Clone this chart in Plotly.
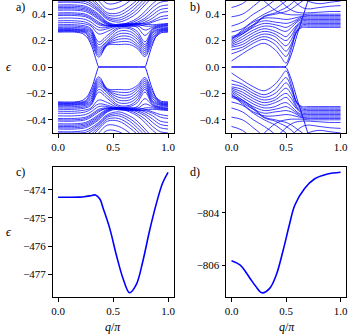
import plotly.graph_objects as go

W, H = 353, 335
BLUE = "#0000ff"
FONT = "'Liberation Serif', 'Times New Roman', 'DejaVu Serif', serif"

# ---- panel a: band energies (positive branch; spectrum is particle-hole symmetric)
XA = [0, 0.15, 0.25, 0.3, 0.37, 0.45, 0.55, 0.65, 0.72, 0.79, 0.86, 0.93, 1.0]
XA0 = [0, 0.15, 0.22, 0.27, 0.31, 0.34, 0.37, 0.42, 0.5, 0.6, 0.7, 0.74, 0.79, 0.82, 0.85, 0.89, 0.94, 1.0]
ZA = [0.265, 0.265, 0.255, 0.22, 0.15, 0.07, 0.0, 0.0, 0.0, 0.0, 0.0, 0.0, 0.0, 0.07, 0.15, 0.23, 0.26, 0.265]
BANDS_A = [
    [0.27, 0.27, 0.255, 0.19, 0.075, 0.165, 0.17, 0.17, 0.14, 0.08, 0.19, 0.265, 0.27],
    [0.275, 0.275, 0.262, 0.21, 0.09, 0.17, 0.19, 0.19, 0.155, 0.095, 0.21, 0.27, 0.275],
    [0.28, 0.28, 0.268, 0.23, 0.105, 0.175, 0.21, 0.21, 0.17, 0.11, 0.225, 0.275, 0.28],
    [0.285, 0.285, 0.275, 0.245, 0.12, 0.18, 0.23, 0.23, 0.19, 0.125, 0.24, 0.28, 0.285],
    [0.29, 0.29, 0.282, 0.26, 0.135, 0.19, 0.25, 0.25, 0.21, 0.14, 0.255, 0.285, 0.29],
    [0.3, 0.3, 0.29, 0.27, 0.15, 0.2, 0.27, 0.27, 0.23, 0.155, 0.265, 0.29, 0.295],
    [0.31, 0.31, 0.3, 0.28, 0.17, 0.22, 0.29, 0.29, 0.25, 0.17, 0.275, 0.3, 0.3],
    [0.32, 0.32, 0.31, 0.29, 0.19, 0.24, 0.3, 0.3, 0.27, 0.19, 0.285, 0.305, 0.31],
    [0.335, 0.335, 0.325, 0.31, 0.25, 0.27, 0.31, 0.315, 0.3, 0.24, 0.29, 0.31, 0.315],
    [0.35, 0.35, 0.34, 0.32, 0.28, 0.29, 0.315, 0.32, 0.315, 0.28, 0.3, 0.315, 0.32],
    [0.37, 0.37, 0.36, 0.34, 0.3, 0.3, 0.32, 0.325, 0.325, 0.31, 0.31, 0.32, 0.325],
    [0.39, 0.39, 0.38, 0.36, 0.32, 0.31, 0.325, 0.33, 0.33, 0.325, 0.32, 0.325, 0.33],
    [0.4, 0.4, 0.39, 0.37, 0.33, 0.315, 0.315, 0.32, 0.325, 0.33, 0.35, 0.38, 0.39],
    [0.41, 0.41, 0.4, 0.38, 0.34, 0.31, 0.31, 0.31, 0.31, 0.32, 0.34, 0.36, 0.37],
    [0.43, 0.43, 0.42, 0.4, 0.36, 0.32, 0.31, 0.31, 0.32, 0.34, 0.37, 0.41, 0.42],
    [0.44, 0.44, 0.43, 0.41, 0.37, 0.325, 0.31, 0.315, 0.33, 0.355, 0.395, 0.435, 0.445],
    [0.45, 0.45, 0.44, 0.42, 0.38, 0.33, 0.31, 0.32, 0.34, 0.37, 0.42, 0.46, 0.47],
    [0.46, 0.46, 0.45, 0.43, 0.39, 0.335, 0.315, 0.33, 0.355, 0.395, 0.45, 0.49, 0.5],
    [0.47, 0.47, 0.46, 0.44, 0.4, 0.34, 0.32, 0.34, 0.37, 0.42, 0.48, 0.52, 0.53],
    [0.49, 0.49, 0.48, 0.46, 0.42, 0.36, 0.34, 0.37, 0.41, 0.47, 0.53, 0.57, 0.58],
    [0.5, 0.5, 0.495, 0.475, 0.43, 0.37, 0.355, 0.39, 0.435, 0.495, 0.555, 0.595, 0.605],
    [0.52, 0.52, 0.51, 0.49, 0.44, 0.38, 0.37, 0.41, 0.46, 0.52, 0.58, 0.62, 0.63],
    [0.54, 0.54, 0.53, 0.51, 0.455, 0.395, 0.39, 0.435, 0.485, 0.545, 0.605, 0.645, 0.655],
    [0.56, 0.56, 0.55, 0.53, 0.47, 0.41, 0.41, 0.46, 0.51, 0.57, 0.63, 0.67, 0.68],
    [0.6, 0.6, 0.59, 0.57, 0.5, 0.44, 0.45, 0.5, 0.56, 0.62, 0.68, 0.72, 0.73],
    [0.65, 0.65, 0.64, 0.61, 0.54, 0.48, 0.49, 0.54, 0.6, 0.66, 0.72, 0.76, 0.77],
]

# ---- panel b
XB = [0, 0.1, 0.2, 0.3, 0.4, 0.45, 0.5, 0.55, 0.6, 0.65, 0.7, 0.8, 0.9, 1.0]
ZB = [0, 0, 0, 0, 0, 0, 0.005, 0.1, 0.24, 0.37, 0.5, 0.72, 0.85, 0.9]
BANDS_B = [
    [0.045, 0.1, 0.15, 0.18, 0.13, 0.08, 0.03, 0.14, 0.27, 0.3, 0.3, 0.3, 0.3, 0.3],
    [0.1, 0.13, 0.18, 0.21, 0.17, 0.12, 0.08, 0.16, 0.27, 0.31, 0.31, 0.31, 0.31, 0.31],
    [0.13, 0.15, 0.2, 0.23, 0.2, 0.16, 0.12, 0.18, 0.28, 0.32, 0.32, 0.32, 0.32, 0.32],
    [0.15, 0.17, 0.22, 0.25, 0.23, 0.19, 0.16, 0.21, 0.3, 0.33, 0.33, 0.33, 0.33, 0.33],
    [0.16, 0.19, 0.24, 0.27, 0.25, 0.22, 0.2, 0.24, 0.31, 0.34, 0.34, 0.34, 0.34, 0.34],
    [0.17, 0.21, 0.26, 0.29, 0.27, 0.25, 0.23, 0.27, 0.32, 0.35, 0.35, 0.35, 0.35, 0.35],
    [0.18, 0.23, 0.28, 0.31, 0.3, 0.28, 0.27, 0.3, 0.34, 0.36, 0.36, 0.36, 0.36, 0.36],
    [0.19, 0.25, 0.3, 0.33, 0.32, 0.31, 0.3, 0.32, 0.35, 0.37, 0.37, 0.37, 0.37, 0.37],
    [0.2, 0.27, 0.32, 0.35, 0.34, 0.335, 0.33, 0.34, 0.36, 0.38, 0.38, 0.38, 0.38, 0.38],
    [0.21, 0.28, 0.34, 0.37, 0.37, 0.365, 0.36, 0.365, 0.375, 0.385, 0.39, 0.39, 0.39, 0.39],
    [0.45, 0.48, 0.55, 0.63, 0.71, 0.75, 0.79, 0.83, 0.87, 0.91, 0.95, 1.0, 1.05, 1.07],
    [0.38, 0.4, 0.46, 0.53, 0.61, 0.65, 0.69, 0.73, 0.77, 0.81, 0.85, 0.92, 0.97, 0.99],
    [0.31, 0.34, 0.4, 0.45, 0.51, 0.55, 0.59, 0.63, 0.67, 0.71, 0.75, 0.82, 0.87, 0.89],
    [0.265, 0.29, 0.35, 0.4, 0.44, 0.47, 0.5, 0.54, 0.58, 0.62, 0.66, 0.73, 0.78, 0.8],
    [0.23, 0.26, 0.32, 0.385, 0.41, 0.43, 0.45, 0.48, 0.52, 0.56, 0.6, 0.67, 0.72, 0.74],
    [0.22, 0.25, 0.31, 0.38, 0.4, 0.41, 0.42, 0.44, 0.47, 0.5, 0.54, 0.61, 0.66, 0.68],
    [0.7, 0.65, 0.58, 0.5, 0.43, 0.41, 0.4, 0.395, 0.395, 0.395, 0.4, 0.4, 0.4, 0.4],
    [0.8, 0.76, 0.7, 0.62, 0.54, 0.5, 0.46, 0.43, 0.415, 0.41, 0.41, 0.415, 0.42, 0.42],
    [0.9, 0.86, 0.8, 0.73, 0.65, 0.61, 0.57, 0.52, 0.48, 0.45, 0.44, 0.45, 0.46, 0.465],
    [1.0, 0.96, 0.9, 0.84, 0.76, 0.72, 0.68, 0.63, 0.58, 0.53, 0.5, 0.48, 0.49, 0.5],
]

# ---- panel c, d: ground state energy vs q/pi
XC = [0, 0.1, 0.2, 0.24, 0.29, 0.34, 0.38, 0.41, 0.47, 0.53, 0.59, 0.65, 0.71, 0.77, 0.83, 0.89, 0.95, 1.0]
EC = [-474.26, -474.26, -474.255, -474.24, -474.21, -474.18, -474.32, -474.65, -475.37, -476.32,
      -477.15, -477.67, -477.39, -476.56, -475.49, -474.54, -473.76, -473.37]
XD = [0, 0.08, 0.17, 0.22, 0.28, 0.35, 0.41, 0.47, 0.53, 0.58, 0.67, 0.76, 0.88, 1.0]
ED = [-805.83, -806.0, -806.51, -806.8, -807.06, -806.89, -806.38, -805.49, -804.47, -803.71,
      -803.07, -802.71, -802.52, -802.45]


def px(x0, x1):
    return [x0 / W, x1 / W]


def py(y0, y1):
    # pixel rows (top, bottom) -> paper domain
    return [1 - y1 / H, 1 - y0 / H]


fig = go.Figure()


def add_line(x, y, ax, width=1.0, smooth=1.0):
    fig.add_trace(go.Scatter(x=x, y=y, mode="lines", xaxis="x" + ax, yaxis="y" + ax,
                             line=dict(color=BLUE, width=width, shape="spline", smoothing=smooth),
                             hoverinfo="skip", showlegend=False))


for s in (1, -1):
    add_line(XA0, [s * v for v in ZA], "", 0.9, 0.5)
    for band in BANDS_A:
        add_line(XA, [s * v for v in band], "", 0.75)
    add_line(XB, [s * v for v in ZB], "2", 0.9, 0.6)
    for band in BANDS_B:
        add_line(XB, [s * v for v in band], "2", 0.75)

add_line(XC, EC, "3", 1.6)
add_line(XD, ED, "4", 1.6)

ax_common = dict(showline=True, mirror=True, linecolor="black", linewidth=1,
                 ticks="outside", ticklen=3.5, tickwidth=0.8, tickcolor="black",
                 showgrid=False, zeroline=False,
                 tickfont=dict(family=FONT, size=11, color="black"))
xt = dict(tickvals=[0, 0.5, 1.0], ticktext=["0.0", "0.5", "1.0"], range=[-0.05, 1.05])
yt_ab = dict(tickvals=[-0.4, -0.2, 0, 0.2, 0.4], ticktext=["−0.4", "−0.2", "0.0", "0.2", "0.4"],
             range=[-0.5, 0.5])

fig.update_layout(
    width=W, height=H, margin=dict(l=0, r=0, t=0, b=0),
    paper_bgcolor="white", plot_bgcolor="white",
    font=dict(family=FONT, size=11, color="black"),
    xaxis=dict(domain=px(52, 174), anchor="y", **xt, **ax_common),
    yaxis=dict(domain=py(1, 133), anchor="x", **yt_ab, **ax_common),
    xaxis2=dict(domain=px(227, 348), anchor="y2", **xt, **ax_common),
    yaxis2=dict(domain=py(1, 133), anchor="x2", **yt_ab, **ax_common),
    xaxis3=dict(domain=px(52, 174), anchor="y3", **xt, **ax_common),
    yaxis3=dict(domain=py(167, 297), anchor="x3", range=[-477.82, -473.18],
                tickvals=[-477, -476, -475, -474],
                ticktext=["−477", "−476", "−475", "−474"], **ax_common),
    xaxis4=dict(domain=px(227, 348), anchor="y4", **xt, **ax_common),
    yaxis4=dict(domain=py(167, 297), anchor="x4", range=[-807.22, -802.25],
                tickvals=[-806, -804], ticktext=["−806", "−804"], **ax_common),
)

labels = [("a)", 20, 7), ("b)", 196, 7), ("c)", 20, 172), ("d)", 196, 172),
          ("<i>ϵ</i>", 8, 67), ("<i>ϵ</i>", 8, 232),
          ("<i>q</i>/<i>π</i>", 113, 327), ("<i>q</i>/<i>π</i>", 288, 327)]
for text, x, y in labels:
    fig.add_annotation(text=text, x=x / W, y=1 - y / H, xref="paper", yref="paper",
                       showarrow=False, xanchor="center", yanchor="middle",
                       font=dict(family=FONT, size=12, color="black"))

fig.write_html("out.html", config={"displayModeBar": False},
               post_script="document.body.style.margin='0';")
